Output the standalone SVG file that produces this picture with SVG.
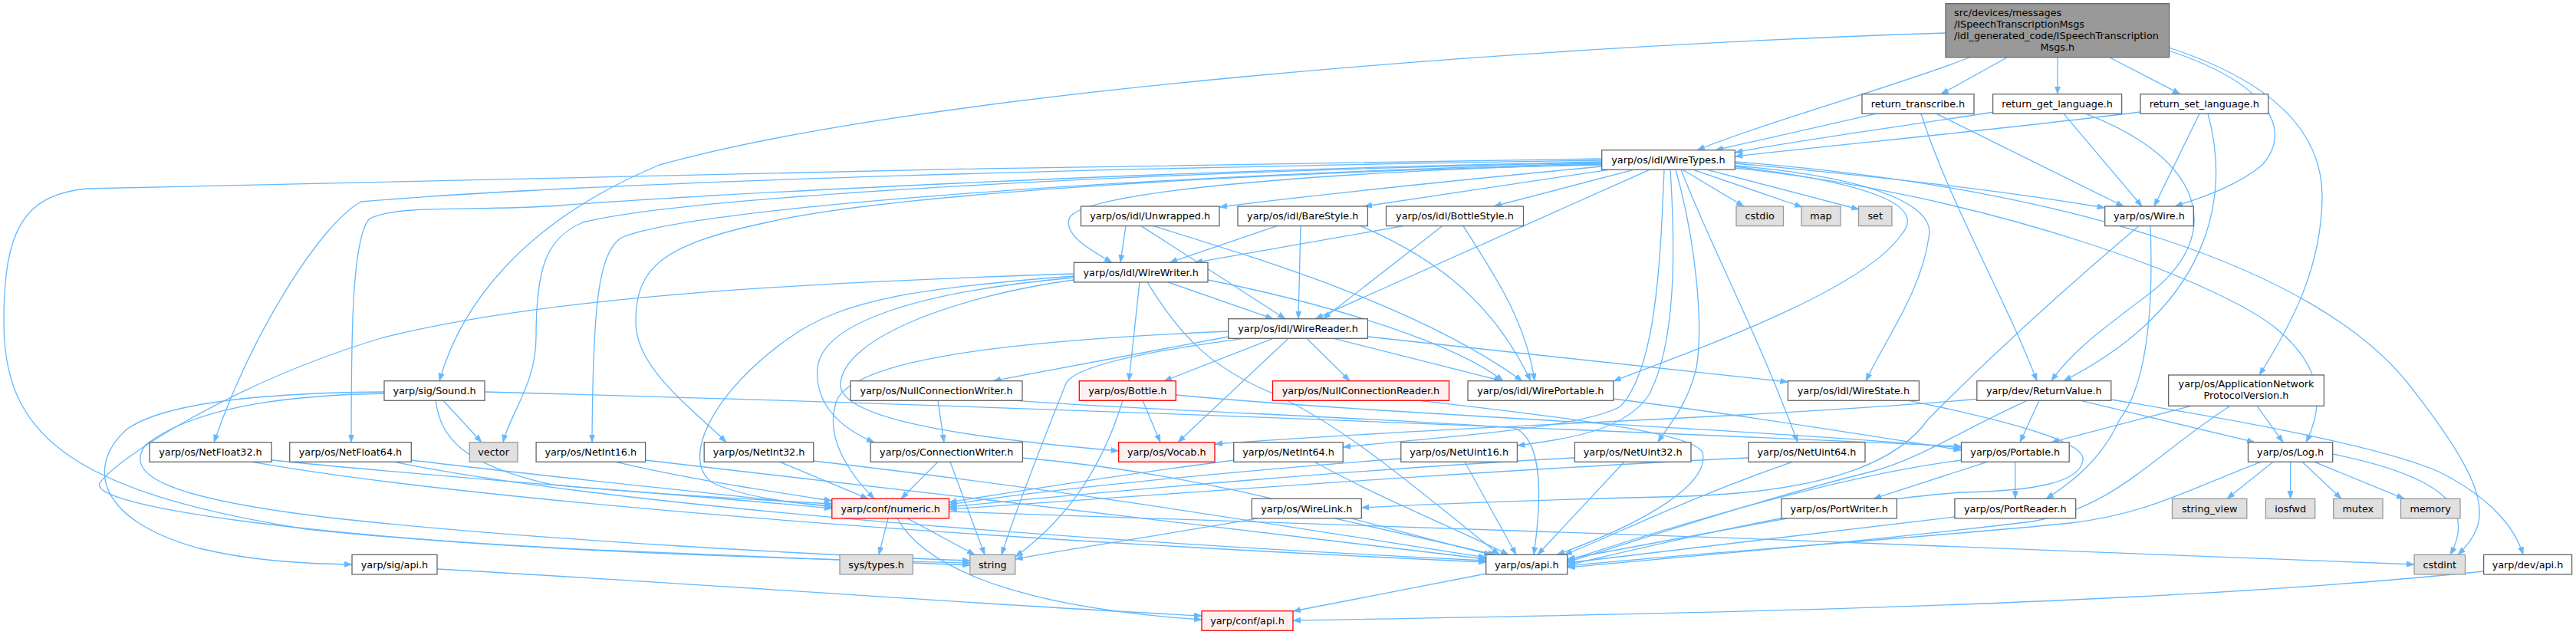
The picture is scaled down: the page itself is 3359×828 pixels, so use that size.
<svg xmlns="http://www.w3.org/2000/svg" width="3359" height="828" viewBox="0 0 3359 828">
<style>
.n rect{fill:#ffffff;stroke:#666666;stroke-width:1.3}
.g rect{fill:#e0e0e0;stroke:#999999;stroke-width:1.3}
.r rect{fill:#fff0f0;stroke:#ff0000;stroke-width:1.3}
.root rect{fill:#999999;stroke:#666666;stroke-width:1.3}
text{font-family:"DejaVu Sans","Liberation Sans",sans-serif;font-size:12.8px;fill:#000000;text-anchor:middle}
#edges path{fill:none;stroke:#63b8ff;stroke-width:1.3;marker-end:url(#ah)}
</style>
<defs>
<marker id="ah" markerUnits="userSpaceOnUse" markerWidth="11" markerHeight="8" refX="10" refY="3.75" orient="auto">
<path d="M0,0 L10,3.75 L0,7.5 z" fill="#63b8ff" stroke="#63b8ff" stroke-width="0.5"/>
</marker>
</defs>
<rect x="0" y="0" width="3359" height="828" fill="#ffffff"/>
<g id="edges">
<path d="M2617,75 L2531,122.7"/>
<path d="M2683,75 L2683,122.7"/>
<path d="M2751,75 L2843,122.7"/>
<path d="M2568,75 C2480,110 2300,160 2213,195.7"/>
<path d="M2828,66 C2960,110 2990,170 2950,215 C2920,240 2880,255 2836,269"/>
<path d="M2828,62 C2960,105 3030,170 3028,260 C3026,350 2990,420 2946,489"/>
<path d="M2537,43 C2000,60 1200,120 860,215 C680,290 600,400 573,496.7"/>
<path d="M2446,148.3 L2237,195.7"/>
<path d="M2525,148.3 L2769,269"/>
<path d="M2505,148.3 C2540,260 2620,400 2656,496.7"/>
<path d="M2600,146 C2480,165 2330,185 2262.3,199"/>
<path d="M2691,148.3 L2793,269"/>
<path d="M2720,148.3 C2880,210 2900,310 2800,385 C2740,430 2700,460 2675,496.7"/>
<path d="M2791,146 C2600,170 2400,188 2262.3,204"/>
<path d="M2868,148.3 L2809,269"/>
<path d="M2879,148.3 C2910,260 2880,400 2691,496.7"/>
<path d="M2088.7,217 C1900,235 1700,256 1590,270"/>
<path d="M2098,221.3 L1779,269"/>
<path d="M2130,221.3 L1948,269"/>
<path d="M2151,221.3 L1715,415.7"/>
<path d="M2088.7,214 C1700,225 1420,250 1395,283 C1385,305 1420,325 1450,342.3"/>
<path d="M2262.3,213 C2450,230 2620,250 2744.7,271"/>
<path d="M2194,221.3 L2274,269"/>
<path d="M2208,221.3 L2350,270"/>
<path d="M2226,221.3 L2424,273"/>
<path d="M2262.3,217 C2450,240 2510,270 2480,305 C2430,380 2200,460 2103.7,497"/>
<path d="M2262.3,216 C2450,232 2525,270 2515,310 C2505,380 2460,440 2433,496.7"/>
<path d="M2262.3,219 C2600,255 2900,370 2970,430 C3030,480 3030,530 3007,576.7"/>
<path d="M2262.3,211 C2700,245 3020,350 3140,500 C3250,640 3250,680 3205,723.3"/>
<path d="M2192,221.3 C2230,320 2290,430 2344,576.7"/>
<path d="M2185,221.3 C2210,310 2222,420 2212,480 C2200,530 2175,555 2162,576.7"/>
<path d="M2178,221.3 C2185,330 2185,450 2150,515 C2120,560 2050,572 1978.4,581"/>
<path d="M2170,221.3 C2165,340 2160,480 2113,530 C2060,560 1850,572 1751.2,583"/>
<path d="M2088.7,209 C1500,218 800,235 471,263 C420,290 330,430 279,576.7"/>
<path d="M2088.7,211 C1500,222 900,255 729,268 C620,276 520,266 482,285 C458,310 458,450 458,576.7"/>
<path d="M2088.7,212 C1500,224 900,255 760,290 C712,310 699,350 699,440 C699,500 665,540 656,576.7"/>
<path d="M2088.7,213 C1500,228 900,270 810,310 C780,330 773,400 772,576.7"/>
<path d="M2088.7,215 C1600,225 1150,255 1000,290 C860,320 829,350 829,420 C829,480 900,530 947,576.7"/>
<path d="M2088.7,207 C1500,215 400,235 112,246 C30,255 5,300 5,420 C5,560 80,640 400,690 C700,722 1100,730 1264.8,734"/>
<path d="M1486,367.9 L1472,496.7"/>
<path d="M1523,367.9 L1660,415.7"/>
<path d="M1575,365 C1750,400 1900,450 1960,496.7"/>
<path d="M1496,367.9 C1540,440 1580,480 1660,513 C1760,560 1850,640 1955,723.3"/>
<path d="M1400.4,360 C1200,375 1100,390 1030,440 C930,510 885,600 930,630 C975,650 1040,656 1084.8,660"/>
<path d="M1400.4,362 C1200,380 1072,420 1066,480 C1062,530 1100,560 1140,576.7"/>
<path d="M1400.4,365 C1250,385 1100,440 1096,500 C1092,545 1250,570 1458.7,588"/>
<path d="M1400.4,357 C1000,370 700,390 500,440 C300,500 150,600 130,630 C115,660 400,700 800,718 C1000,726 1150,731 1264.8,737"/>
<path d="M1468,294.6 L1461,342.3"/>
<path d="M1488,294.6 L1676,415.7"/>
<path d="M1504,294.6 C1650,340 1850,400 1985,496.7"/>
<path d="M1665,294.6 L1525,342.3"/>
<path d="M1696,294.6 L1693,415.7"/>
<path d="M1774,294.6 C1880,340 1950,400 1996,496.7"/>
<path d="M1830,294.6 L1558,342.3"/>
<path d="M1881,294.6 L1725,415.7"/>
<path d="M1908,294.6 C1950,360 1990,420 2001,496.7"/>
<path d="M1601.7,432 C1300,445 1120,470 1092,520 C1072,570 1110,620 1140,650.3"/>
<path d="M1622,441.3 C1480,460 1400,480 1390,500 C1350,600 1320,680 1306,723.3"/>
<path d="M1602,439 L1295,496.7"/>
<path d="M1660,441.3 L1518,496.7"/>
<path d="M1680,441.3 L1536,576.7"/>
<path d="M1704,441.3 L1760,496.7"/>
<path d="M1739,441.3 L1958,496.7"/>
<path d="M1783.4,439 L2331.4,498"/>
<path d="M1223,522.3 L1231,576.7"/>
<path d="M1325,522.3 C1500,535 1800,545 1975,558 C2003,570 2015,620 2000,723.3"/>
<path d="M1490,522.3 L1513,576.7"/>
<path d="M1464,522.3 C1440,600 1400,670 1324,726"/>
<path d="M1533.3,515 C1800,540 2300,560 2557.5,584"/>
<path d="M1851,522.3 C2050,545 2210,565 2220,590 C2230,630 2150,680 2030,723.3"/>
<path d="M2103.7,520 C2300,545 2450,570 2557.5,587"/>
<path d="M2489,522.3 C2650,555 2720,580 2716,600 C2712,630 2650,640 2560,642 C2420,650 2200,700 2043.7,737"/>
<path d="M2582,520 C2300,545 1900,555 1584,579"/>
<path d="M2643,522.3 C2560,560 2500,600 2440,615 C2300,650 2150,700 2043.7,733"/>
<path d="M2659,522.3 L2634,576.7"/>
<path d="M2713,522.3 L2940,576.7"/>
<path d="M2752.8,521 C2900,545 3100,580 3180,615 C3250,650 3280,690 3290,723.3"/>
<path d="M2857,529.3 L2675,576.7"/>
<path d="M2908,529.3 C2800,600 2760,660 2650,680 C2400,710 2200,725 2043.7,740"/>
<path d="M2943,529.3 L2977,576.7"/>
<path d="M2789,294.6 C2700,370 2600,460 2514,547 C2480,595 2400,640 2200,647 C2000,652 1850,658 1775.3,662"/>
<path d="M2804,294.6 C2808,400 2800,500 2764,547 C2740,600 2700,630 2668,650.3"/>
<path d="M501,511 C380,512 220,520 165,560 C110,610 130,680 260,715 C330,732 400,735 459,736"/>
<path d="M501,513 C400,515 260,525 190,580 C160,620 220,650 430,675 C700,705 1100,725 1264.8,731"/>
<path d="M568,522.3 C575,570 600,605 720,632 C850,645 1000,652 1084.8,657"/>
<path d="M578,522.3 L628,576.7"/>
<path d="M632,511 C900,518 1500,535 2557.5,582"/>
<path d="M354,600 C600,625 900,645 1084.8,663"/>
<path d="M329,602.3 C600,650 1200,700 1937.7,733"/>
<path d="M536.3,600 C700,620 950,645 1084.8,661"/>
<path d="M514,602.3 C800,660 1400,705 1937.7,731"/>
<path d="M803,602.3 C900,625 1000,640 1084.8,653"/>
<path d="M841.6,600 C1200,640 1600,690 1937.7,729"/>
<path d="M1017,602.3 L1132,650.3"/>
<path d="M1060.7,601 C1400,640 1700,690 1937.7,727"/>
<path d="M1223,602.3 L1175,650.3"/>
<path d="M1239,602.3 L1284,723.3"/>
<path d="M1333.4,597 C1600,620 1800,690 1945,723.3"/>
<path d="M1610,600 C1450,620 1300,645 1237.5,655"/>
<path d="M1714,602.3 C1800,650 1900,690 1967,723.3"/>
<path d="M1827,598 C1600,615 1350,640 1237.5,658"/>
<path d="M1910,602.3 L1977,723.3"/>
<path d="M2053.4,597 C1800,610 1450,640 1237.5,661"/>
<path d="M2118,602.3 L2005,723.3"/>
<path d="M2280,597 C1900,615 1450,650 1237.5,664"/>
<path d="M2337,602.3 C2200,650 2100,700 2040,723.3"/>
<path d="M2591,602.3 L2443,650.3"/>
<path d="M2627.8,602.3 L2627.8,650.3"/>
<path d="M2557.5,600 C2400,620 2200,680 2043.7,731"/>
<path d="M2948,602.3 C2850,640 2800,670 2700,682 C2500,702 2200,722 2043.7,738"/>
<path d="M2964,602.3 L2904,650.3"/>
<path d="M2986.6,602.3 L2986.6,650.3"/>
<path d="M3002,602.3 L3053,650.3"/>
<path d="M3018,602.3 L3135,650.3"/>
<path d="M3041.7,592 C3180,620 3230,660 3195,723.3"/>
<path d="M2330,676 L2043.7,729"/>
<path d="M2549,674 L2043.7,734"/>
<path d="M1740,675.9 L1950,723.3"/>
<path d="M1640,675.9 C1500,700 1400,715 1323.8,729"/>
<path d="M1158,675.9 L1146,723.3"/>
<path d="M1183,675.9 L1271,723.3"/>
<path d="M1170,675.9 C1200,730 1300,790 1567,808"/>
<path d="M1237.5,667 C1700,682 2600,712 3148.1,736"/>
<path d="M1938,748 L1686,797"/>
<path d="M570,742 C900,760 1300,790 1567,803"/>
<path d="M3238.6,745 C2800,790 2200,800 1686,809"/>
</g>
<g id="node-root" class="root"><rect x="2537" y="4.7" width="291.6" height="70"/>
<text x="2548" y="20.5" style="text-anchor:start">src/devices/messages</text>
<text x="2548" y="35.5" style="text-anchor:start">/ISpeechTranscriptionMsgs</text>
<text x="2548" y="50.5" style="text-anchor:start">/idl_generated_code/ISpeechTranscription</text>
<text x="2682.8" y="65.5">Msgs.h</text></g>
<g id="node-return_transcribe" class="n"><rect x="2428" y="122.7" width="146" height="25.6"/><text x="2501" y="140">return_transcribe.h</text></g>
<g id="node-return_get_language" class="n"><rect x="2598.6" y="122.7" width="168" height="25.6"/><text x="2682.6" y="140">return_get_language.h</text></g>
<g id="node-return_set_language" class="n"><rect x="2791" y="122.7" width="166.7" height="25.6"/><text x="2874.3" y="140">return_set_language.h</text></g>
<g id="node-WireTypes" class="n"><rect x="2088.7" y="195.7" width="173.6" height="25.6"/><text x="2175.5" y="213">yarp/os/idl/WireTypes.h</text></g>
<g id="node-Unwrapped" class="n"><rect x="1409.5" y="269" width="180.5" height="25.6"/><text x="1499.7" y="286.3">yarp/os/idl/Unwrapped.h</text></g>
<g id="node-BareStyle" class="n"><rect x="1614" y="269" width="169.4" height="25.6"/><text x="1698.7" y="286.3">yarp/os/idl/BareStyle.h</text></g>
<g id="node-BottleStyle" class="n"><rect x="1807.5" y="269" width="179" height="25.6"/><text x="1897" y="286.3">yarp/os/idl/BottleStyle.h</text></g>
<g id="node-cstdio" class="g"><rect x="2264" y="269" width="61.5" height="25.6"/><text x="2294.7" y="286.3">cstdio</text></g>
<g id="node-map" class="g"><rect x="2349" y="269" width="51" height="25.6"/><text x="2374.5" y="286.3">map</text></g>
<g id="node-set" class="g"><rect x="2423.5" y="269" width="43.4" height="25.6"/><text x="2445.2" y="286.3">set</text></g>
<g id="node-Wire" class="n"><rect x="2744.7" y="269" width="115.6" height="25.6"/><text x="2802.5" y="286.3">yarp/os/Wire.h</text></g>
<g id="node-WireWriter" class="n"><rect x="1400.4" y="342.3" width="174.6" height="25.6"/><text x="1487.7" y="359.6">yarp/os/idl/WireWriter.h</text></g>
<g id="node-WireReader" class="n"><rect x="1601.7" y="415.7" width="181.7" height="25.6"/><text x="1692.5" y="433">yarp/os/idl/WireReader.h</text></g>
<g id="node-Sound" class="n"><rect x="501" y="496.7" width="131" height="25.6"/><text x="566.5" y="514">yarp/sig/Sound.h</text></g>
<g id="node-NullConnectionWriter" class="n"><rect x="1109" y="496.7" width="224" height="25.6"/><text x="1221" y="514">yarp/os/NullConnectionWriter.h</text></g>
<g id="node-Bottle" class="r"><rect x="1407.3" y="496.7" width="126" height="25.6"/><text x="1470.3" y="514">yarp/os/Bottle.h</text></g>
<g id="node-NullConnectionReader" class="r"><rect x="1659.5" y="496.7" width="230" height="25.6"/><text x="1774.5" y="514">yarp/os/NullConnectionReader.h</text></g>
<g id="node-WirePortable" class="n"><rect x="1914" y="496.7" width="189.7" height="25.6"/><text x="2008.8" y="514">yarp/os/idl/WirePortable.h</text></g>
<g id="node-WireState" class="n"><rect x="2331.4" y="496.7" width="171" height="25.6"/><text x="2416.9" y="514">yarp/os/idl/WireState.h</text></g>
<g id="node-ReturnValue" class="n"><rect x="2577.8" y="496.7" width="175" height="25.6"/><text x="2665.3" y="514">yarp/dev/ReturnValue.h</text></g>
<g id="node-ApplicationNetworkProtocolVersion" class="n"><rect x="2827.6" y="489" width="202.8" height="40.3"/><text x="2929" y="504.5">yarp/os/ApplicationNetwork</text><text x="2929" y="519.5">ProtocolVersion.h</text></g>
<g id="node-NetFloat32" class="n"><rect x="195" y="576.7" width="159" height="25.6"/><text x="274.5" y="594">yarp/os/NetFloat32.h</text></g>
<g id="node-NetFloat64" class="n"><rect x="377.7" y="576.7" width="158.6" height="25.6"/><text x="457" y="594">yarp/os/NetFloat64.h</text></g>
<g id="node-vector" class="g"><rect x="612.3" y="576.7" width="62.7" height="25.6"/><text x="643.6" y="594">vector</text></g>
<g id="node-NetInt16" class="n"><rect x="699.1" y="576.7" width="142.5" height="25.6"/><text x="770.3" y="594">yarp/os/NetInt16.h</text></g>
<g id="node-NetInt32" class="n"><rect x="918.2" y="576.7" width="142.5" height="25.6"/><text x="989.5" y="594">yarp/os/NetInt32.h</text></g>
<g id="node-ConnectionWriter" class="n"><rect x="1135.2" y="576.7" width="198.2" height="25.6"/><text x="1234.3" y="594">yarp/os/ConnectionWriter.h</text></g>
<g id="node-Vocab" class="r"><rect x="1458.7" y="576.7" width="125.3" height="25.6"/><text x="1521.3" y="594">yarp/os/Vocab.h</text></g>
<g id="node-NetInt64" class="n"><rect x="1608.7" y="576.7" width="142.5" height="25.6"/><text x="1680" y="594">yarp/os/NetInt64.h</text></g>
<g id="node-NetUint16" class="n"><rect x="1826.8" y="576.7" width="151.6" height="25.6"/><text x="1902.6" y="594">yarp/os/NetUint16.h</text></g>
<g id="node-NetUint32" class="n"><rect x="2053.4" y="576.7" width="151.6" height="25.6"/><text x="2129.2" y="594">yarp/os/NetUint32.h</text></g>
<g id="node-NetUint64" class="n"><rect x="2280" y="576.7" width="152" height="25.6"/><text x="2356" y="594">yarp/os/NetUint64.h</text></g>
<g id="node-Portable" class="n"><rect x="2557.5" y="576.7" width="140.7" height="25.6"/><text x="2627.8" y="594">yarp/os/Portable.h</text></g>
<g id="node-Log" class="n"><rect x="2931.5" y="576.7" width="110.2" height="25.6"/><text x="2986.6" y="594">yarp/os/Log.h</text></g>
<g id="node-numeric" class="r"><rect x="1084.8" y="650.3" width="152.7" height="25.6"/><text x="1161.2" y="667.6">yarp/conf/numeric.h</text></g>
<g id="node-WireLink" class="n"><rect x="1632.3" y="650.3" width="143" height="25.6"/><text x="1703.8" y="667.6">yarp/os/WireLink.h</text></g>
<g id="node-PortWriter" class="n"><rect x="2322.9" y="650.3" width="150.5" height="25.6"/><text x="2398.1" y="667.6">yarp/os/PortWriter.h</text></g>
<g id="node-PortReader" class="n"><rect x="2548.9" y="650.3" width="157.8" height="25.6"/><text x="2627.8" y="667.6">yarp/os/PortReader.h</text></g>
<g id="node-string_view" class="g"><rect x="2832.5" y="650.3" width="97.3" height="25.6"/><text x="2881.2" y="667.6">string_view</text></g>
<g id="node-iosfwd" class="g"><rect x="2954.4" y="650.3" width="64.3" height="25.6"/><text x="2986.6" y="667.6">iosfwd</text></g>
<g id="node-mutex" class="g"><rect x="3042.7" y="650.3" width="64.3" height="25.6"/><text x="3074.8" y="667.6">mutex</text></g>
<g id="node-memory" class="g"><rect x="3130.5" y="650.3" width="77.5" height="25.6"/><text x="3169.2" y="667.6">memory</text></g>
<g id="node-sys_types" class="g"><rect x="1095" y="723.3" width="95.3" height="25.6"/><text x="1142.6" y="740.6">sys/types.h</text></g>
<g id="node-string" class="g"><rect x="1264.8" y="723.3" width="59" height="25.6"/><text x="1294.3" y="740.6">string</text></g>
<g id="node-sig_api" class="n"><rect x="459" y="723.3" width="111" height="25.6"/><text x="514.5" y="740.6">yarp/sig/api.h</text></g>
<g id="node-os_api" class="n"><rect x="1937.7" y="723.3" width="106" height="25.6"/><text x="1990.7" y="740.6">yarp/os/api.h</text></g>
<g id="node-cstdint" class="g"><rect x="3148.1" y="723.3" width="66.4" height="25.6"/><text x="3181.3" y="740.6">cstdint</text></g>
<g id="node-dev_api" class="n"><rect x="3238.6" y="723.3" width="115" height="25.6"/><text x="3296" y="740.6">yarp/dev/api.h</text></g>
<g id="node-conf_api" class="r"><rect x="1567" y="796.7" width="119" height="25.6"/><text x="1626.5" y="814">yarp/conf/api.h</text></g>
</svg>
